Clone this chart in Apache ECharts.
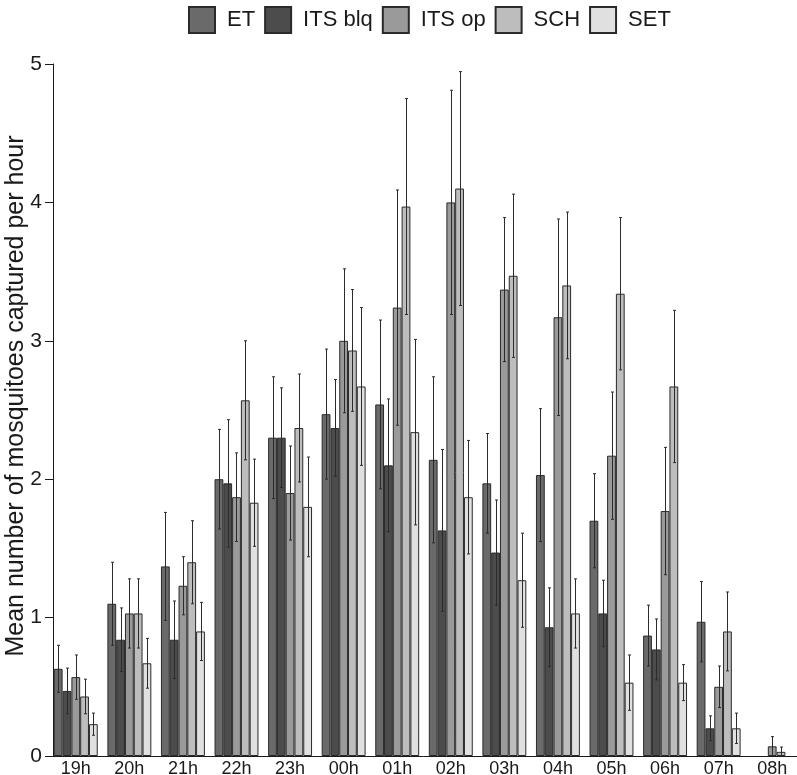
<!DOCTYPE html>
<html>
<head>
<meta charset="utf-8">
<script src="https://cdn.jsdelivr.net/npm/echarts@6/dist/echarts.min.js"></script>
<style>
  html, body { margin: 0; padding: 0; background: #fff; }
  #chart { width: 797px; height: 775px; }
</style>
</head>
<body>
<div id="chart"></div>
<script>
var hours = ['19h', '20h', '21h', '22h', '23h', '00h', '01h', '02h', '03h', '04h', '05h', '06h', '07h', '08h']
var seriesNames = ['ET', 'ITS blq', 'ITS op', 'SCH', 'SET']
var yTicks = [0, 1, 2, 3, 4, 5]

// mean per hour
var etMean = [0.63, 1.10, 1.37, 2.00, 2.30, 2.47, 2.54, 2.14, 1.97, 2.03, 1.70, 0.87, 0.97, 0]
var blqMean = [0.47, 0.84, 0.84, 1.97, 2.30, 2.37, 2.10, 1.63, 1.47, 0.93, 1.03, 0.77, 0.20, 0]
var opMean = [0.57, 1.03, 1.23, 1.87, 1.90, 3.00, 3.24, 4.00, 3.37, 3.17, 2.17, 1.77, 0.50, 0.07]
var schMean = [0.43, 1.03, 1.40, 2.57, 2.37, 2.93, 3.97, 4.10, 3.47, 3.40, 3.34, 2.67, 0.90, 0.03]
var setMean = [0.23, 0.67, 0.90, 1.83, 1.80, 2.67, 2.34, 1.87, 1.27, 1.03, 0.53, 0.53, 0.20, 0]

// error (half length of the bar)
var etErr = [0.17, 0.30, 0.39, 0.36, 0.44, 0.47, 0.61, 0.60, 0.36, 0.48, 0.34, 0.22, 0.29, 0]
var blqErr = [0.165, 0.23, 0.28, 0.46, 0.36, 0.35, 0.48, 0.585, 0.38, 0.285, 0.24, 0.22, 0.09, 0]
var opErr = [0.16, 0.25, 0.21, 0.32, 0.34, 0.52, 0.85, 0.81, 0.52, 0.71, 0.46, 0.46, 0.15, 0.07]
var schErr = [0.125, 0.25, 0.30, 0.43, 0.39, 0.44, 0.78, 0.845, 0.59, 0.53, 0.55, 0.55, 0.285, 0.035]
var setErr = [0.08, 0.18, 0.21, 0.315, 0.36, 0.57, 0.67, 0.41, 0.34, 0.25, 0.20, 0.13, 0.11, 0]

var means = [etMean, blqMean, opMean, schMean, setMean]
var errs = [etErr, blqErr, opErr, schErr, setErr]
var colors = ['#6a6a6a', '#4c4c4c', '#9a9a9a', '#bdbdbd', '#e0e0e0']

var catGap = 0.18
var font = 'Liberation Sans, Arial, sans-serif'

var chart = echarts.init(document.getElementById('chart'))

var series = []
seriesNames.forEach(function (name, i) {
  series.push({
    name: name,
    type: 'bar',
    // empty hours are left out, no outline drawn on the axis
    data: means[i].map(function (v) { return v > 0 ? v : '-' }),
    barGap: '0%',
    barCategoryGap: (catGap * 100) + '%',
    itemStyle: {
      color: colors[i],
      borderColor: '#2a2a2a',
      borderWidth: 1
    },
    z: 2
  })
})

seriesNames.forEach(function (name, i) {
  var data = []
  means[i].forEach(function (v, k) {
    if (v > 0 || errs[i][k] > 0) data.push([k, v, errs[i][k]])
  })
  series.push({
    name: name + ' err',
    type: 'custom',
    z: 5,
    silent: true,
    encode: { x: 0, y: 1 },
    data: data,
    renderItem: function (params, api) {
      var k = api.value(0)
      var v = api.value(1)
      var e = api.value(2)
      var band = api.size([1, 0])[0]
      var bw = band * (1 - catGap) / 5
      var hi = api.coord([k, v + e])
      var lo = api.coord([k, Math.max(v - e, 0)])
      var x = Math.round(hi[0] + (i - 2) * bw) + 0.5
      var style = { stroke: '#2b2b2b', lineWidth: 1 }
      return {
        type: 'group',
        children: [
          { type: 'line', shape: { x1: x, y1: hi[1], x2: x, y2: lo[1] }, style: style },
          { type: 'line', shape: { x1: x - 1.5, y1: hi[1], x2: x + 1.5, y2: hi[1] }, style: style },
          { type: 'line', shape: { x1: x - 1.5, y1: lo[1], x2: x + 1.5, y2: lo[1] }, style: style }
        ]
      }
    }
  })
})

var option = {
  animation: false,
  backgroundColor: '#fff',
  textStyle: { fontFamily: font },
  legend: {
    data: seriesNames,
    top: 1,
    left: 183,
    itemWidth: 26,
    itemHeight: 26,
    itemGap: 9,
    icon: 'rect',
    textStyle: {
      fontSize: 22,
      color: '#1a1a1a',
      fontFamily: font,
      padding: [0, 0, 0, 7]
    }
  },
  grid: {
    left: 49,
    top: 64,
    width: 750,
    bottom: 19,
    containLabel: false,
    outerBoundsMode: 'none'
  },
  xAxis: {
    type: 'category',
    data: hours,
    axisLine: { lineStyle: { color: '#1a1a1a', width: 1 } },
    axisTick: { show: false },
    axisLabel: {
      fontSize: 18,
      color: '#1a1a1a',
      margin: 4,
      fontFamily: font
    },
    splitLine: { show: false }
  },
  yAxis: {
    type: 'value',
    min: yTicks[0],
    max: yTicks[yTicks.length - 1],
    interval: 1,
    offset: -4,
    name: 'Mean number of mosquitoes captured per hour',
    nameLocation: 'middle',
    nameGap: 24,
    nameMoveOverlap: false,
    nameTextStyle: {
      fontSize: 25,
      color: '#1a1a1a',
      fontFamily: font,
      padding: [0, 0, 0, 28]
    },
    axisLine: { show: true, lineStyle: { color: '#1a1a1a', width: 1 } },
    axisTick: { show: true, length: 8, lineStyle: { color: '#1a1a1a' } },
    axisLabel: {
      fontSize: 21,
      color: '#1a1a1a',
      margin: 11,
      fontFamily: font
    },
    splitLine: { show: false }
  },
  series: series
}

chart.setOption(option)
</script>
</body>
</html>
